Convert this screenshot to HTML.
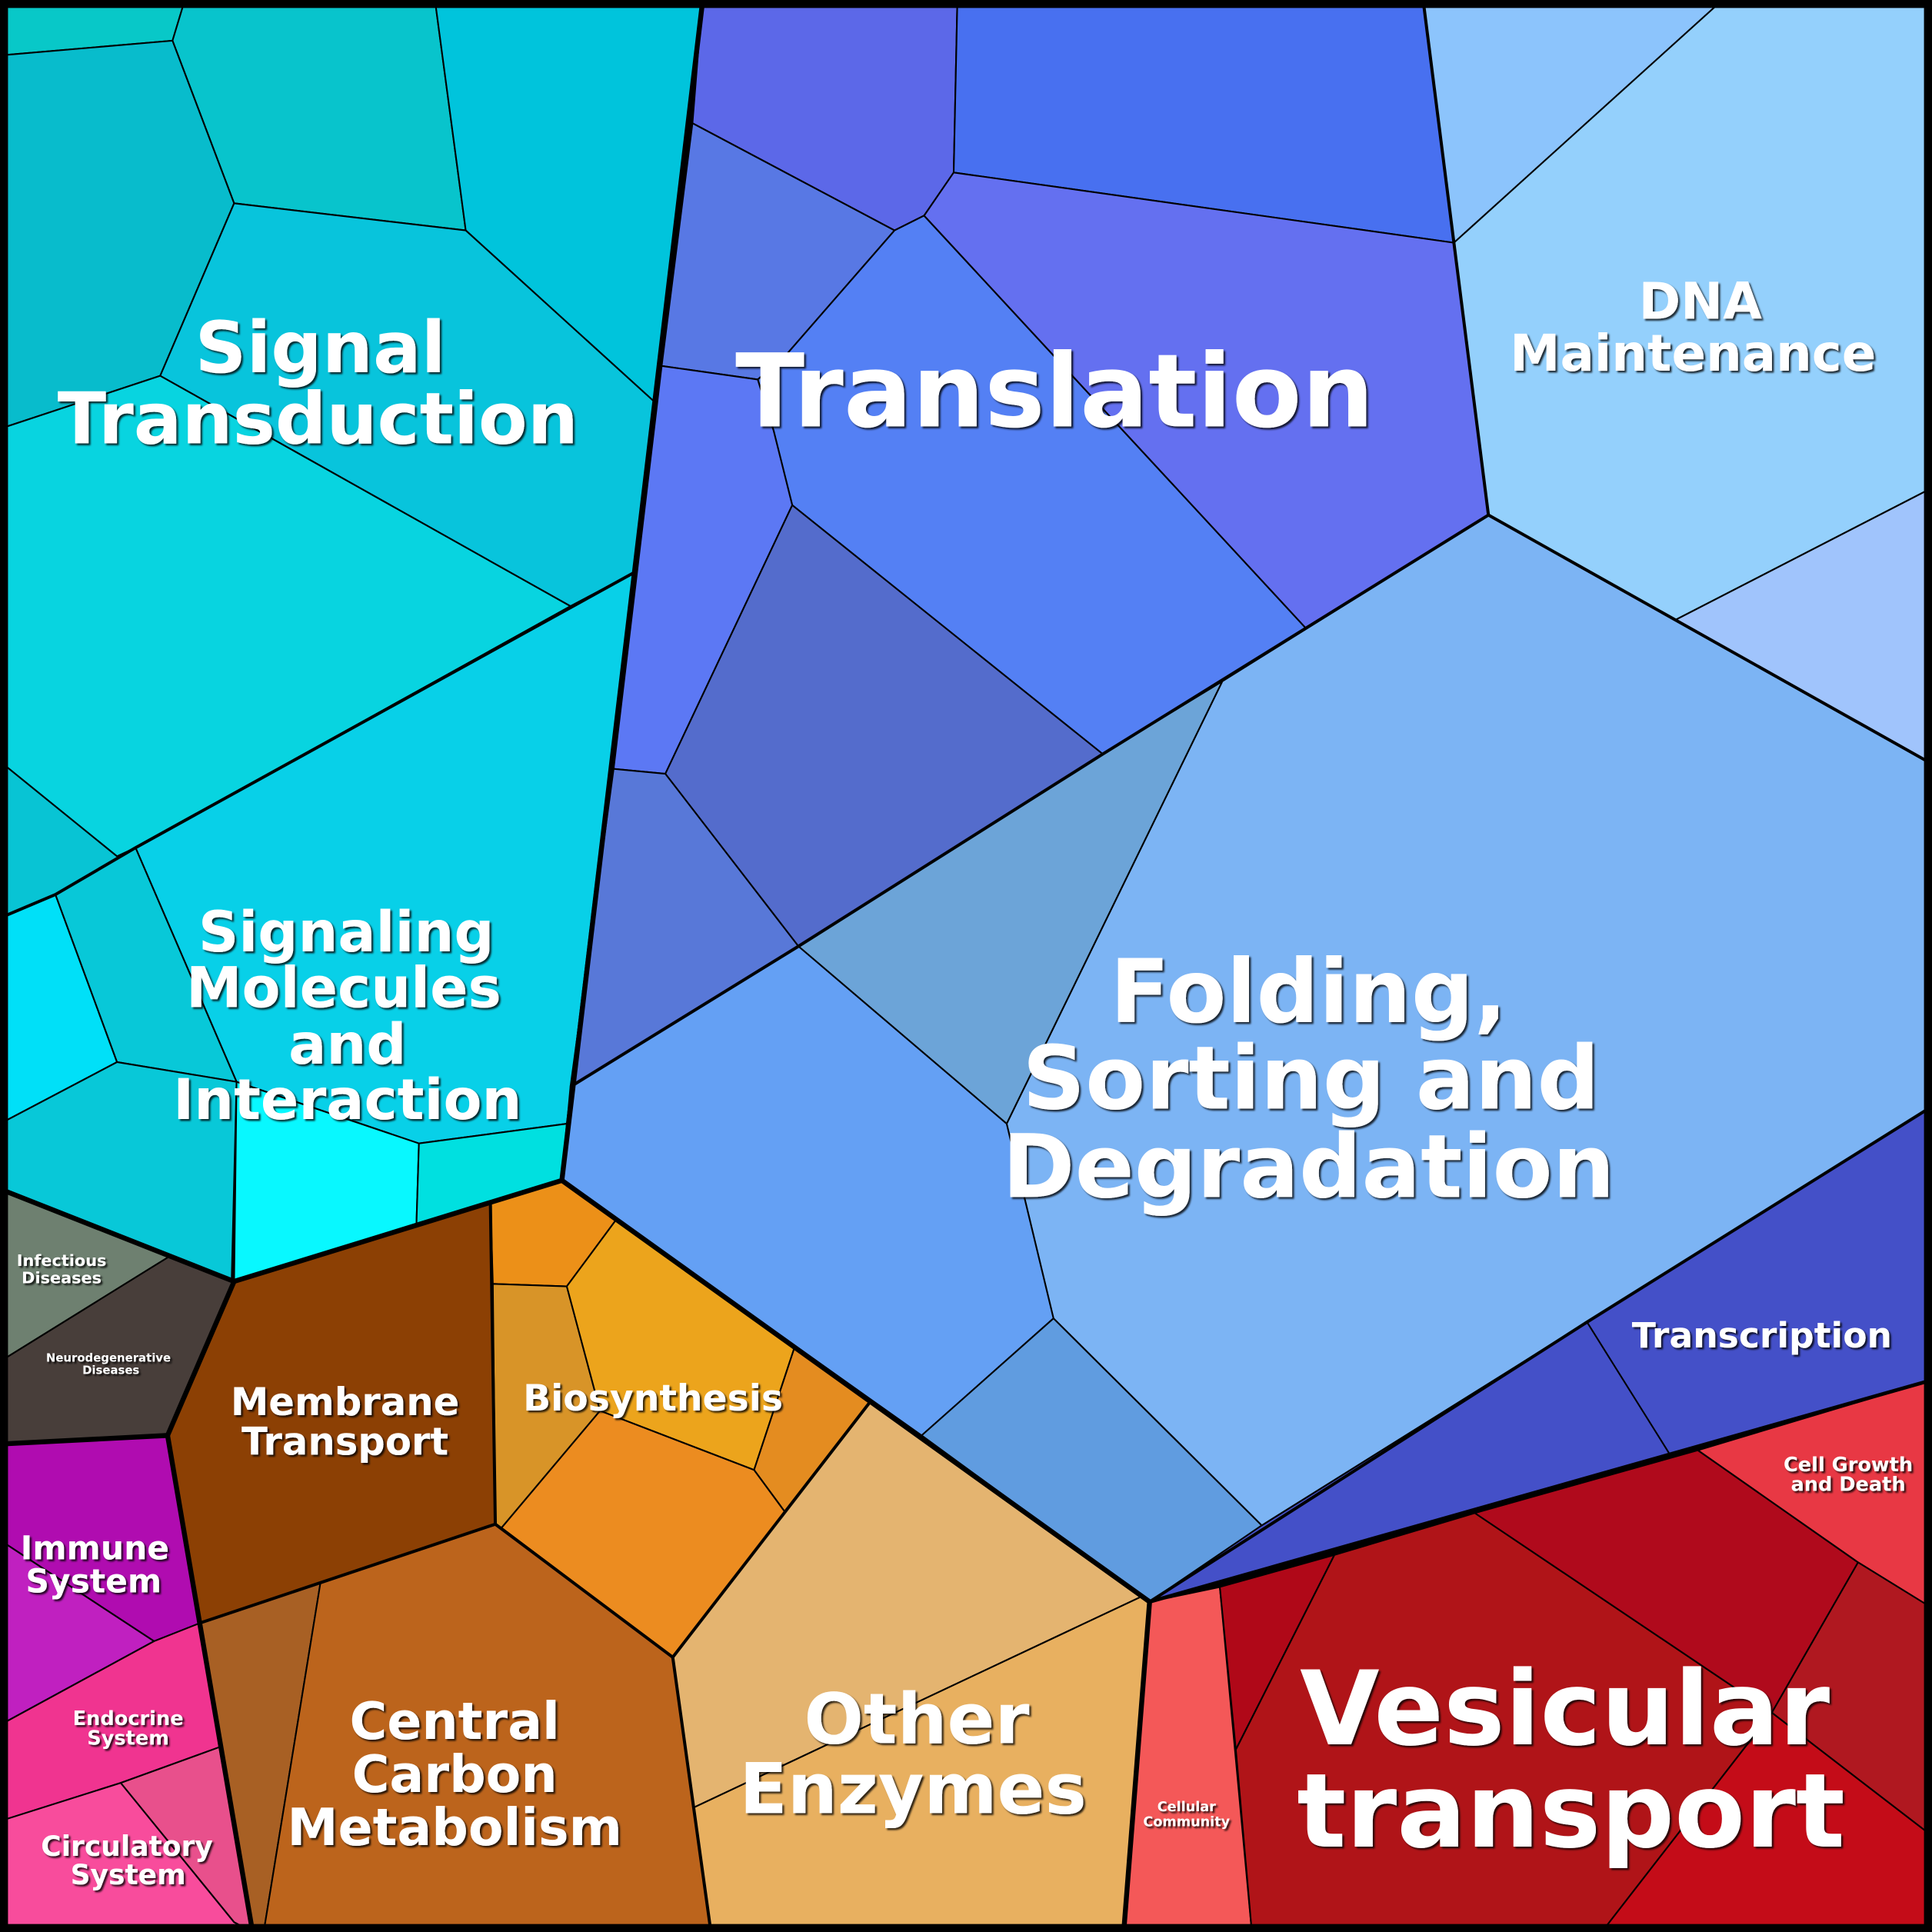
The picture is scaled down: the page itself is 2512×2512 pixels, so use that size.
<!DOCTYPE html>
<html><head><meta charset="utf-8"><style>
html,body{margin:0;padding:0;background:#000;}
svg{display:block;}
text{font-family:"DejaVu Sans","Liberation Sans",sans-serif;font-weight:bold;fill:#fff;text-anchor:middle;dominant-baseline:central;}
</style></head><body>
<svg width="2512" height="2512" viewBox="0 0 1568 1568" xmlns="http://www.w3.org/2000/svg">
<defs><filter id="sh" x="-10%" y="-10%" width="120%" height="130%"><feDropShadow dx="1.5" dy="1.5" stdDeviation="0.6" flood-color="#000" flood-opacity="0.8"/></filter></defs>
<g stroke="#000" stroke-width="1.3" stroke-linejoin="round">
<polygon fill="#08c8c8" points="0,0 150,0 140,33 0,45"/>
<polygon fill="#08c4cc" points="150,0 353,0 378,187 190,165 140,33"/>
<polygon fill="#00c4dc" points="353,0 570,0 531,326 378,187"/>
<polygon fill="#08bccc" points="0,45 140,33 190,165 130,305 0,348"/>
<polygon fill="#08c4dc" points="190,165 378,187 531,326 514,465 463,492 130,305"/>
<polygon fill="#08d4e0" points="0,348 130,305 463,492 110,688 95,695 0,618"/>
<polygon fill="#08c4d4" points="0,618 95,695 110,688 45,726 0,745"/>
<polygon fill="#08d0e8" points="110,688 463,492 514,465 460,912 340,928 192,878"/>
<polygon fill="#00e0f8" points="0,745 45,726 95,862 0,912"/>
<polygon fill="#08c8d8" points="45,726 110,688 192,878 95,862"/>
<polygon fill="#08c8d8" points="0,912 95,862 192,878 188,1040 0,965"/>
<polygon fill="#08f8ff" points="192,878 340,928 338,993 190,1040"/>
<polygon fill="#00e0e0" points="340,928 460,912 456,958 338,993"/>
<polygon fill="#6e8070" points="0,965 137,1020 0,1105"/>
<polygon fill="#483e3a" points="137,1020 190,1040 136,1165 0,1172 0,1105"/>
<polygon fill="#8c4004" points="190,1040 398,976 402,1237 163,1317 136,1165"/>
<polygon fill="#ec9018" points="398,976 456,958 500,990 460,1044 400,1042"/>
<polygon fill="#d89428" points="400,1042 460,1044 487,1145 407,1240 402,1237"/>
<polygon fill="#eca41c" points="460,1044 500,990 645,1093 612,1193 487,1145"/>
<polygon fill="#e48c20" points="645,1093 706,1138 637,1227 612,1193"/>
<polygon fill="#ec8c20" points="487,1145 612,1193 637,1227 546,1345 407,1240"/>
<polygon fill="#b00cb0" points="0,1172 136,1165 163,1317 125,1332 0,1250"/>
<polygon fill="#c020c0" points="0,1250 125,1332 0,1400"/>
<polygon fill="#f03490" points="0,1400 125,1332 163,1317 178,1418 98,1447 0,1478"/>
<polygon fill="#f84c9c" points="0,1478 98,1447 190,1560 205,1568 0,1568"/>
<polygon fill="#e8508c" points="98,1447 178,1418 205,1568 190,1560"/>
<polygon fill="#a86024" points="163,1317 260,1285 214,1568 205,1568"/>
<polygon fill="#bc641c" points="260,1285 402,1237 407,1240 546,1345 577,1568 214,1568"/>
<polygon fill="#e4b470" points="546,1345 706,1138 933,1300 928,1295 563,1467"/>
<polygon fill="#e8b060" points="563,1467 928,1295 933,1300 912,1568 577,1568"/>
<polygon fill="#f45858" points="933,1300 990,1288 1016,1568 912,1568"/>
<polygon fill="#b00818" points="990,1288 1083,1262 1003,1420"/>
<polygon fill="#b01418" points="1003,1420 1083,1262 1197,1228 1438,1390 1300,1568 1016,1568"/>
<polygon fill="#b00a1c" points="1197,1228 1378,1177 1508,1268 1438,1390"/>
<polygon fill="#e83844" points="1378,1177 1568,1120 1568,1305 1508,1268"/>
<polygon fill="#b01820" points="1508,1268 1568,1305 1568,1490 1438,1390"/>
<polygon fill="#c40c18" points="1438,1390 1568,1490 1568,1568 1300,1568"/>
<polygon fill="#4450c8" points="928,1295 1024,1238 1288,1073 1568,898 1568,1120 1355,1180 933,1300"/>
<line x1="1288" y1="1073" x2="1355" y2="1180"/>
<polygon fill="#7cb4f4" points="992,553 1208,418 1568,620 1568,898 1288,1073 1024,1238 855,1070 817,912"/>
<polygon fill="#6ca4d8" points="648,768 895,612 992,553 817,912"/>
<polygon fill="#64a0f4" points="456,958 463,882 648,768 817,912 855,1070 748,1165"/>
<polygon fill="#609ce0" points="748,1165 855,1070 1024,1238 933,1300"/>
<polygon fill="#8cc4fc" points="1155,0 1398,0 1180,197"/>
<polygon fill="#94d0fc" points="1398,0 1568,0 1568,396 1360,503 1208,418 1180,197"/>
<polygon fill="#a0c4fc" points="1360,503 1568,396 1568,620"/>
<polygon fill="#5c68e8" points="570,0 777,0 774,140 750,175 726,187 562,100"/>
<polygon fill="#4870f0" points="777,0 1155,0 1180,197 774,140"/>
<polygon fill="#5878e4" points="562,100 726,187 638,288 615,308 537,297"/>
<polygon fill="#5480f4" points="638,288 726,187 750,175 1060,510 895,612 643,410 628,350 615,308"/>
<polygon fill="#6470f0" points="774,140 1180,197 1208,418 1060,510 750,175"/>
<polygon fill="#5c78f4" points="537,297 615,308 628,350 643,410 540,628 498,624"/>
<polygon fill="#546ccc" points="643,410 895,612 648,768 540,628"/>
<polygon fill="#5878d8" points="498,624 540,628 648,768 463,882"/>
</g>
<g fill="none" stroke="#000" stroke-linejoin="round">
<polyline stroke-width="2.5" points="0,745 45,726 110,688 514,465"/>
<polyline stroke-width="2.5" points="463,882 648,768 895,612 1208,418 1568,620"/>
<polyline stroke-width="2.5" points="1208,418 1155,0"/>
<polyline stroke-width="2.5" points="1568,898 1288,1073 933,1300"/>
<polyline stroke-width="3" points="933,1300 1568,1120"/>
<polyline stroke-width="2.5" points="163,1317 402,1237 546,1345 577,1568"/>
<polyline stroke-width="2.5" points="546,1345 706,1138"/>
<polyline stroke-width="2.5" points="398,976 402,1237"/>
<polyline stroke-width="4" points="570,3 456,958 190,1040 0,965"/>
<polyline stroke-width="4" points="190,1040 136,1165 0,1172"/>
<polyline stroke-width="4" points="136,1165 205,1568"/>
<polyline stroke-width="4" points="456,958 933,1300 912,1568"/>
<rect x="3" y="3" width="1562" height="1562" stroke-width="7"/>
</g>
<g filter="url(#sh)">
<text x="260" y="282" font-size="58">Signal</text>
<text x="258" y="340" font-size="58">Transduction</text>
<text x="856" y="318" font-size="82.5">Translation</text>
<text x="1380" y="245" font-size="41">DNA</text>
<text x="1374" y="287" font-size="41">Maintenance</text>
<text x="1062" y="805" font-size="71">Folding,</text>
<text x="1064" y="875" font-size="71">Sorting and</text>
<text x="1062" y="947" font-size="71">Degradation</text>
<text x="281" y="757" font-size="45.5">Signaling</text>
<text x="279" y="802" font-size="45.5">Molecules</text>
<text x="282" y="848" font-size="45.5">and</text>
<text x="282" y="893" font-size="45.5">Interaction</text>
<text x="50" y="1023" font-size="13">Infectious</text>
<text x="50" y="1037" font-size="13">Diseases</text>
<text x="88" y="1102" font-size="9.3">Neurodegenerative</text>
<text x="90" y="1112" font-size="9.3">Diseases</text>
<text x="280" y="1138" font-size="31">Membrane</text>
<text x="280" y="1170" font-size="31">Transport</text>
<text x="530" y="1135" font-size="29.5">Biosynthesis</text>
<text x="77" y="1257" font-size="26.5">Immune</text>
<text x="76" y="1284" font-size="26.5">System</text>
<text x="104" y="1395" font-size="16">Endocrine</text>
<text x="104" y="1411" font-size="16">System</text>
<text x="103" y="1499" font-size="22.5">Circulatory</text>
<text x="104" y="1522" font-size="22.5">System</text>
<text x="369" y="1397" font-size="41.5">Central</text>
<text x="369" y="1440" font-size="41.5">Carbon</text>
<text x="369" y="1483" font-size="41.5">Metabolism</text>
<text x="744" y="1395" font-size="57">Other</text>
<text x="741" y="1452" font-size="57">Enzymes</text>
<text x="963" y="1467" font-size="11">Cellular</text>
<text x="963" y="1479" font-size="11">Community</text>
<text x="1270" y="1387" font-size="83.5">Vesicular</text>
<text x="1275" y="1470" font-size="83.5">transport</text>
<text x="1430" y="1084" font-size="28.5">Transcription</text>
<text x="1500" y="1189" font-size="16">Cell Growth</text>
<text x="1500" y="1205" font-size="16">and Death</text>
</g>
</svg>
</body></html>
